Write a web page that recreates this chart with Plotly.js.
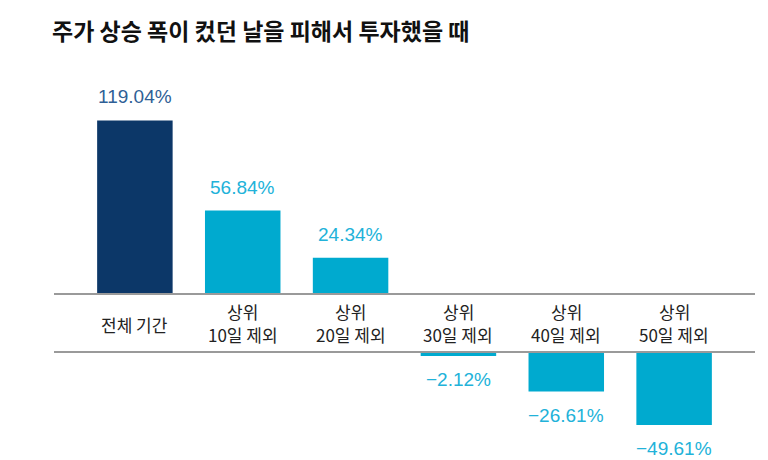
<!DOCTYPE html>
<html>
<head>
<meta charset="utf-8">
<script src="https://cdn.plot.ly/plotly-3.0.1.min.js"></script>
<style>html,body{margin:0;padding:0;background:#fff;}#chart{width:768px;height:460px;}</style>
</head>
<body>
<div id="chart"></div>
<script>
// Data
const categoryLines = [["전체 기간"], ["상위", "10일 제외"], ["상위", "20일 제외"], ["상위", "30일 제외"], ["상위", "40일 제외"], ["상위", "50일 제외"]];
const values = [119.04, 56.84, 24.34, -2.12, -26.61, -49.61];
const valueLabels = ["119.04%", "56.84%", "24.34%", "−2.12%", "−26.61%", "−49.61%"];
const barColors = ["#0c3768", "#00aacf", "#00aacf", "#00aacf", "#00aacf", "#00aacf"];
const labelColors = ["#2f5f96", "#22b2d9", "#22b2d9", "#22b2d9", "#22b2d9", "#22b2d9"];

const xs = categoryLines.map((_, i) => i);
const posVals = values.map(v => v >= 0 ? v : null);
const negVals = values.map(v => v < 0 ? v : null);

const numFont = "Liberation Sans, Arial, sans-serif";
const krFont = "Noto Sans CJK KR, Noto Sans, sans-serif";

const traces = [
  {type: "bar", x: xs, y: posVals, xaxis: "x", yaxis: "y", width: 0.70,
   marker: {color: barColors, line: {width: 0}}, hoverinfo: "skip"},
  {type: "bar", x: xs, y: negVals, xaxis: "x2", yaxis: "y2", width: 0.70,
   marker: {color: barColors, line: {width: 0}}, hoverinfo: "skip"}
];

const annotations = [];
values.forEach((v, i) => {
  if (v >= 0) {
    annotations.push({x: i, y: v, xref: "x", yref: "y", text: valueLabels[i], showarrow: false,
      yanchor: "bottom", yshift: 11, font: {family: numFont, size: 19, color: labelColors[i]}});
  } else {
    annotations.push({x: i, y: v, xref: "x2", yref: "y2", text: valueLabels[i], showarrow: false,
      yanchor: "top", yshift: -11, font: {family: numFont, size: 19, color: labelColors[i]}});
  }
});
// category labels in band between the two lines (pixel centers converted to paper fraction)
const toPaper = py => (455 - py) / 415;
categoryLines.forEach((lines, i) => {
  const centers = lines.length === 1 ? [324] : [311, 334];
  lines.forEach((t, k) => {
    annotations.push({x: i, y: toPaper(centers[k]), xref: "x", yref: "paper", text: t, showarrow: false,
      xanchor: "center", yanchor: "middle", align: "center", borderpad: 0,
      font: {family: krFont, size: 17, color: "#222"}});
  });
});

const layout = {
  width: 768, height: 460,
  margin: {l: 54, r: 13, t: 40, b: 5},
  paper_bgcolor: "#fff", plot_bgcolor: "#fff",
  showlegend: false,
  title: {text: "<b>주가 상승 폭이 컸던 날을 피해서 투자했을 때</b>", x: 52 / 768, xref: "container", xanchor: "left",
    y: 1 - 32 / 460, yref: "container", yanchor: "middle",
    font: {family: krFont, size: 23, color: "#111"}},
  xaxis: {domain: [0, 1], range: [-0.75, 5.75], showticklabels: false, ticks: "",
    showgrid: false, zeroline: false, showline: true, linecolor: "#9a9a9a", linewidth: 2, anchor: "y"},
  yaxis: {domain: [toPaper(293), toPaper(80)], range: [0, 146.9], showticklabels: false,
    showgrid: false, zeroline: false, showline: false, ticks: ""},
  xaxis2: {domain: [0, 1], range: [-0.75, 5.75], showticklabels: false, ticks: "",
    showgrid: false, zeroline: false, showline: true, linecolor: "#9a9a9a", linewidth: 2,
    anchor: "y2", side: "top"},
  yaxis2: {domain: [0, toPaper(353)], range: [-70.3, 0], showticklabels: false,
    showgrid: false, zeroline: false, showline: false, ticks: ""},
  annotations: annotations
};

Plotly.newPlot("chart", traces, layout, {displayModeBar: false, staticPlot: true});
</script>
</body>
</html>
